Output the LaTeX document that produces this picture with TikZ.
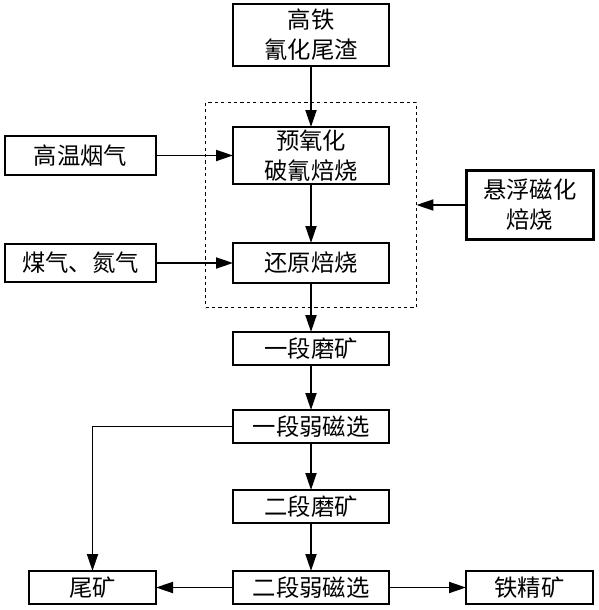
\documentclass[tikz,border=0pt]{standalone}
\usepackage{fontspec}
\newfontfamily\cjk{Noto Sans CJK SC}
\usetikzlibrary{positioning, fit, arrows.meta}
\tikzset{%
  >={Triangle[width=8.25pt,length=12.75pt]},
  % Specifications for style of nodes:
  base/.style = {
    draw=black,
    line width=1.7pt,
    inner sep=0pt,
    outer sep=0pt,
    text centered,
    font=\cjk\fontsize{17.5pt}{22.5pt}\selectfont
  },
  action/.style={base, rectangle, minimum width=117pt, minimum height=24.75pt},
  side/.style={base, rectangle, minimum width=95.25pt, minimum height=24.75pt},
  gas/.style={base, rectangle, minimum width=113.25pt, minimum height=29pt},
}

\begin{document}
\begin{tikzpicture}[
  line width=1.4pt,
  align=center,]
  \useasboundingbox (0,0) rectangle (449.25pt,-457.5pt);
  % nodes
  \node (feed) [action, minimum height=46.5pt] at (233.25pt,-26.25pt)
  {高铁 \\ 氰化尾渣};
  \node (preox) [action, minimum height=42.75pt, below=45.75pt of feed]
  {预氧化 \\ 破氰焙烧};
  \node (reduce) [action, minimum height=30pt, below=44.25pt of preox]
  {还原焙烧};
  \node (dash) [draw, line width=1.4pt, dash pattern=on 2.4pt off 2.4pt,
    outer sep=0pt, inner xsep=20.6pt, inner ysep=18.4pt, fit=(preox)(reduce)] {};
  \node (gas) [gas, left=57.75pt of preox] {高温烟气};
  \node (coal) [gas, minimum height=28.5pt, left=57.75pt of reduce] {煤气、氮气};
  \node (susp) [side, minimum height=51.75pt, right=37.5pt of dash]
  {悬浮磁化 \\ 焙烧};
  \node (grind1) [action, below=36.75pt of reduce] {一段磨矿};
  \node (sep1) [action, below=33.75pt of grind1] {一段弱磁选};
  \node (grind2) [action, below=35.25pt of sep1] {二段磨矿};
  \node (sep2) [action, below=36pt of grind2] {二段弱磁选};
  \node (tail) [side, left=57.75pt of sep2] {尾矿};
  \node (conc) [side, right=57.75pt of sep2] {铁精矿};
  % lines
  \draw[->] (feed) -- (preox);
  \draw[->] (preox) -- (reduce);
  \draw[->] (reduce) -- (grind1);
  \draw[->] (grind1) -- (sep1);
  \draw[->] (sep1) -- (grind2);
  \draw[->] (grind2) -- (sep2);
  \draw[->] (gas) -- (preox);
  \draw[->] (coal) -- (reduce);
  \draw[->] (susp) -- (susp -| dash.east);
  \draw[->] (sep1) -| (tail);
  \draw[->] (sep2) -- (tail);
  \draw[->] (sep2) -- (conc);
\end{tikzpicture}
\end{document}
